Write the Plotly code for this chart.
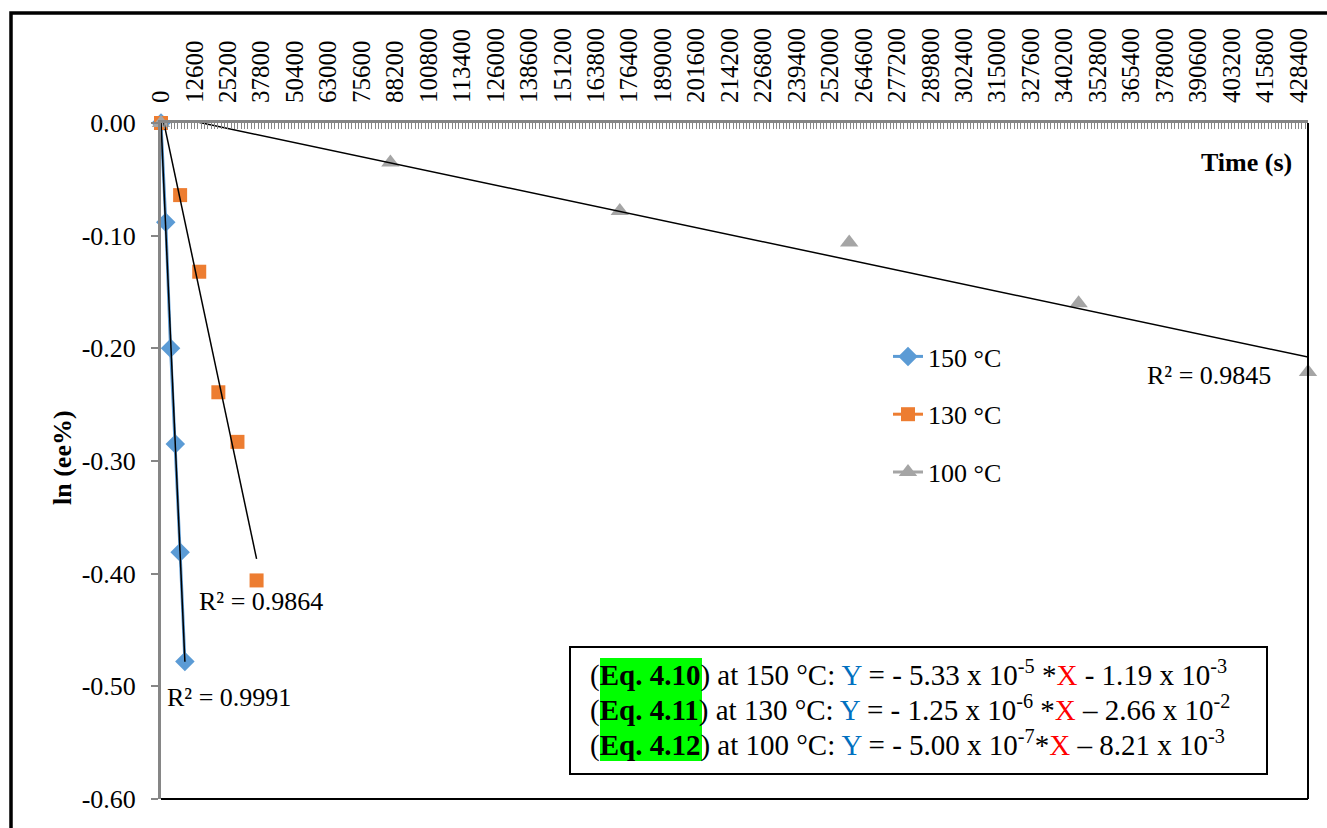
import numpy as np
import plotly.graph_objects as go

# ---- data: ln(ee%) versus time at three temperatures ----
t_150 = [0, 1800, 3600, 5400, 7200, 9000]
y_150 = [0.0, -0.088, -0.200, -0.285, -0.381, -0.478]

t_130 = [0, 7200, 14400, 21600, 28800, 36000]
y_130 = [0.0, -0.064, -0.132, -0.239, -0.283, -0.406]

t_100 = [0, 86400, 172800, 259200, 345600, 432000]
y_100 = [0.0, -0.035, -0.078, -0.106, -0.160, -0.221]

r2_labels = ["R² = 0.9991", "R² = 0.9864", "R² = 0.9845"]
series_names = ["150 °C", "130 °C", "100 °C"]

x_tickvals = list(range(0, 432000, 12600))
x_ticktext = [str(v) for v in x_tickvals]
y_tickvals = [0.0, -0.1, -0.2, -0.3, -0.4, -0.5, -0.6]
y_ticktext = ["0.00", "-0.10", "-0.20", "-0.30", "-0.40", "-0.50", "-0.60"]

eq_lines = [
    "(<b>Eq. 4.10</b>) at 150 °C: <span style='color:#0070C0'>Y</span> = - 5.33 x 10<sup>-5</sup> *"
    "<span style='color:#FF0000'>X</span> - 1.19 x 10<sup>-3</sup>",
    "(<b>Eq. 4.11</b>) at 130 °C: <span style='color:#0070C0'>Y</span> = - 1.25 x 10<sup>-6</sup> *"
    "<span style='color:#FF0000'>X</span> – 2.66 x 10<sup>-2</sup>",
    "(<b>Eq. 4.12</b>) at 100 °C: <span style='color:#0070C0'>Y</span> = - 5.00 x 10<sup>-7</sup>*"
    "<span style='color:#FF0000'>X</span> – 8.21 x 10<sup>-3</sup>",
]

# ---- styling ----
FONT = "Liberation Serif, Times New Roman, serif"
BLUE, ORANGE, GREY = "#5B9BD5", "#ED7D31", "#A5A5A5"
AXIS_GREY = "#868686"
W, H = 1327, 828
ML, MR, MT, MB = 161, 19, 123, 29
PW, PH = W - ML - MR, H - MT - MB


def px(x):
    return (x - ML) / PW


def py(y):
    return (H - MB - y) / PH


def trend(x, y):
    """Least-squares linear trendline over the data's x range."""
    k, b = np.polyfit(x, y, 1)
    xs = np.array([min(x), max(x)], dtype=float)
    return xs, k * xs + b


fig = go.Figure()

# data series
fig.add_trace(go.Scatter(
    x=t_150, y=y_150, mode="lines+markers", name=series_names[0],
    line=dict(color=BLUE, width=3),
    marker=dict(symbol="diamond", size=15, color=BLUE),
    cliponaxis=False, legendgroup="a",
))
fig.add_trace(go.Scatter(
    x=t_130, y=y_130, mode="markers", showlegend=False,
    marker=dict(symbol="square", size=14, color=ORANGE),
    cliponaxis=False,
))
fig.add_trace(go.Scatter(
    x=t_100, y=y_100, mode="markers", showlegend=False,
    marker=dict(symbol="triangle-up", size=16, color=GREY),
    cliponaxis=False,
))

# legend keys for the marker-only series
fig.add_trace(go.Scatter(
    x=[None], y=[None], mode="lines+markers", name=series_names[1],
    line=dict(color=ORANGE, width=3),
    marker=dict(symbol="square", size=14, color=ORANGE), legendgroup="b",
))
fig.add_trace(go.Scatter(
    x=[None], y=[None], mode="lines+markers", name=series_names[2],
    line=dict(color=GREY, width=3),
    marker=dict(symbol="triangle-up", size=16, color=GREY), legendgroup="c",
))

# linear trendlines
for tx, ty in ((t_150, y_150), (t_130, y_130), (t_100, y_100)):
    xs, ys = trend(tx, ty)
    fig.add_trace(go.Scatter(
        x=xs, y=ys, mode="lines", showlegend=False, hoverinfo="skip",
        line=dict(color="black", width=1.5),
    ))

annotations = []
# R² labels placed beside their trendlines
r2_pos = [(1500, -0.5095), (13560, -0.4251), (370600, -0.2237)]
for (ax, ay), txt in zip(r2_pos, r2_labels):
    annotations.append(dict(
        x=ax, y=ay, xref="x", yref="y", text=txt, showarrow=False,
        xanchor="left", yanchor="middle",
        font=dict(family=FONT, size=26, color="black"),
    ))

# axis titles
annotations.append(dict(
    x=px(1294), y=py(163), xref="paper", yref="paper", text="<b>Time (s)</b>",
    showarrow=False, xanchor="right", yanchor="middle",
    font=dict(family=FONT, size=26, color="black"),
))
annotations.append(dict(
    x=px(62), y=py(458), xref="paper", yref="paper", text="<b>ln (ee%)</b>",
    showarrow=False, textangle=-90, xanchor="center", yanchor="middle",
    font=dict(family=FONT, size=26, color="black"),
))

# rate equations
for i, line in enumerate(eq_lines):
    annotations.append(dict(
        x=px(588), y=py(673 + 35 * i), xref="paper", yref="paper", text=line,
        showarrow=False, xanchor="left", yanchor="middle",
        font=dict(family=FONT, size=29, color="black"),
    ))

shapes = [
    # outer frame of the chart
    dict(type="rect", xref="paper", yref="paper",
         x0=px(11), x1=px(1345), y0=py(845), y1=py(13),
         line=dict(color="black", width=3.5), layer="above"),
    # right and bottom edges of the plot area
    dict(type="line", xref="paper", yref="paper", x0=1, x1=1, y0=0, y1=1,
         line=dict(color="black", width=2)),
    dict(type="line", xref="paper", yref="paper", x0=0, x1=1, y0=0, y1=0,
         line=dict(color="black", width=2)),
    # equation box and highlight
    dict(type="rect", xref="paper", yref="paper",
         x0=px(570), x1=px(1267), y0=py(774), y1=py(647),
         line=dict(color="black", width=2), fillcolor="white", layer="above"),
    dict(type="rect", xref="paper", yref="paper",
         x0=px(600), x1=px(702), y0=py(761), y1=py(658),
         line=dict(width=0), fillcolor="#00FF00", layer="above"),
]

fig.update_layout(
    width=W, height=H, autosize=False,
    margin=dict(l=ML, r=MR, t=MT, b=MB, pad=0),
    paper_bgcolor="white", plot_bgcolor="white",
    font=dict(family=FONT, size=26, color="black"),
    showlegend=True,
    legend=dict(
        x=px(888), y=py(333), xanchor="left", yanchor="top",
        bgcolor="rgba(0,0,0,0)", font=dict(family=FONT, size=26, color="black"),
        tracegroupgap=21, traceorder="grouped", itemsizing="trace",
    ),
    annotations=annotations,
    shapes=shapes,
    xaxis=dict(
        range=[0, 432000], side="top", anchor="y",
        tickmode="array", tickvals=x_tickvals, ticktext=x_ticktext,
        tickangle=-90, tickfont=dict(family=FONT, size=25, color="black"),
        ticks="inside", ticklen=6, tickwidth=1, tickcolor=AXIS_GREY,
        minor=dict(dtick=1260, tick0=0, ticks="inside", ticklen=6,
                   tickwidth=1, tickcolor=AXIS_GREY, showgrid=False),
        showline=True, linecolor=AXIS_GREY, linewidth=3,
        showgrid=False, zeroline=False, ticklabelstandoff=12,
    ),
    yaxis=dict(
        range=[-0.6, 0],
        tickmode="array", tickvals=y_tickvals, ticktext=y_ticktext,
        tickfont=dict(family=FONT, size=26, color="black"),
        ticks="outside", ticklen=7, tickwidth=1.5, tickcolor=AXIS_GREY,
        showline=True, linecolor=AXIS_GREY, linewidth=3,
        showgrid=False, zeroline=False, ticklabelstandoff=10,
    ),
)

fig.write_html("out.html")
